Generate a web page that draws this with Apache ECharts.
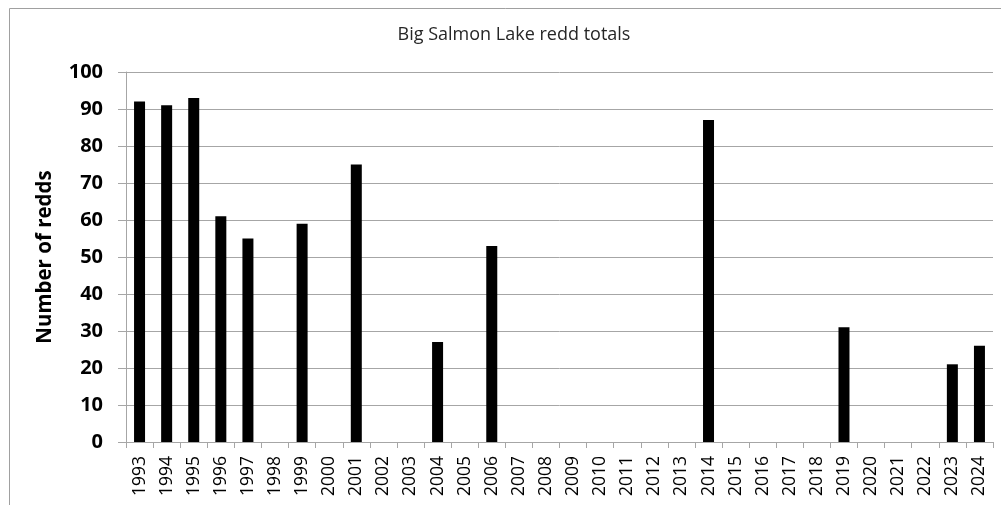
<!DOCTYPE html>
<html><head><meta charset="utf-8">
<script src="https://cdn.jsdelivr.net/npm/echarts@6/dist/echarts.min.js"></script>
<style>html,body{margin:0;padding:0;background:#fff}#c{width:1001px;height:505px}</style>
</head><body><div id="c"></div>
<script>
const years = ['1993','1994','1995','1996','1997','1998','1999','2000','2001','2002','2003','2004','2005','2006','2007','2008','2009','2010','2011','2012','2013','2014','2015','2016','2017','2018','2019','2020','2021','2022','2023','2024'];
const redds = [92,91,93,61,55,0,59,0,75,0,0,27,0,53,0,0,0,0,0,0,0,87,0,0,0,0,31,0,0,0,21,26];
const titleText = 'Big Salmon Lake redd totals';
const yName = 'Number of redds';

const chart = echarts.init(document.getElementById('c'));
chart.setOption({
  animation: false,
  backgroundColor: '#fff',
  graphic: [{
    type: 'rect', left: 7, top: 6,
    shape: {x: 0, y: 0, width: 1100, height: 600},
    style: {fill: 'none', stroke: '#a0a0a0', lineWidth: 1},
    silent: true, z: -1
  }],
  title: {
    text: titleText, left: 509, top: 21, textAlign: 'center',
    textStyle: {fontFamily: 'Open Sans', fontSize: 18, fontWeight: 'normal', color: '#262626'}
  },
  grid: {left: 126, right: 8, top: 72, bottom: 63, containLabel: false},
  xAxis: {
    type: 'category', data: years, boundaryGap: true,
    axisLine: {lineStyle: {color: '#a6a6a6'}},
    axisTick: {show: true, length: 6, lineStyle: {color: '#a6a6a6'}, alignWithLabel: false},
    axisLabel: {rotate: 90, interval: 0, margin: 14, fontFamily: 'Open Sans', fontSize: 17.5, color: '#000'}
  },
  yAxis: {
    type: 'value', min: 0, max: 100, interval: 10,
    name: yName, nameLocation: 'middle', nameGap: 70, nameRotate: 90,
    nameTextStyle: {fontFamily: 'Open Sans', fontSize: 20.5, fontWeight: 'bold', color: '#000'},
    axisLine: {show: true, lineStyle: {color: '#a6a6a6'}},
    axisTick: {show: true, length: 8, lineStyle: {color: '#a6a6a6'}},
    splitLine: {lineStyle: {color: '#a6a6a6'}},
    axisLabel: {margin: 23, fontFamily: 'Open Sans', fontSize: 20, fontWeight: 'bold', color: '#000'}
  },
  series: [{
    type: 'bar', data: redds, barWidth: 11,
    itemStyle: {color: '#000'}
  }]
});
</script></body></html>
